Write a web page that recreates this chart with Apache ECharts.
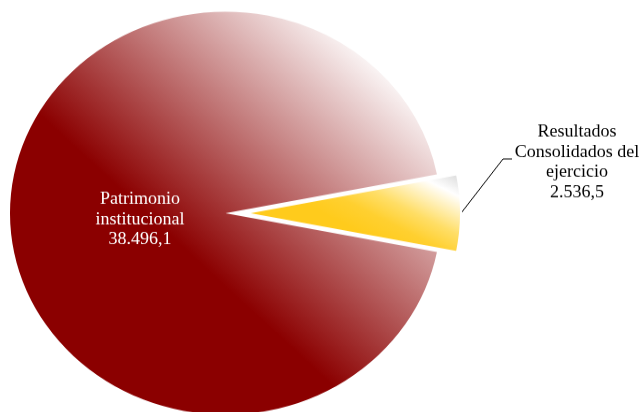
<!DOCTYPE html>
<html><head><meta charset="utf-8">
<script src="https://cdn.jsdelivr.net/npm/echarts@6/dist/echarts.min.js"></script>
<style>
html,body{margin:0;padding:0;background:#fff;overflow:hidden;width:643px;height:412px}
#wrap{width:643px;height:412px;overflow:hidden;position:relative}
#c{width:643px;height:441px;transform:scaleY(0.935);transform-origin:0 0;}
</style></head><body><div id="wrap"><div id="c"></div></div>
<script>
// ---- data ----
const categories = ['Patrimonio institucional', 'Resultados Consolidados del ejercicio'];
const labelNames = ['Patrimonio\ninstitucional', 'Resultados\nConsolidados del\nejercicio'];
const values = [38496.1, 2536.5];

function fmtEs(v) {
  const parts = v.toFixed(1).split('.');
  return parts[0].replace(/\B(?=(\d{3})+(?!\d))/g, '.') + ',' + parts[1];
}

const total = values.reduce((a, b) => a + b, 0);
const smallAngle = values[1] / total * 360;
const CX = 225.5, CY = 228, R = 215.5, EXPLODE = 20;

const chart = echarts.init(document.getElementById('c'), null, {renderer: 'canvas'});
const serif = '"Liberation Serif", "Times New Roman", serif';

const bigColor = {
  type: 'linear', x: 0, y: 1, x2: 1, y2: 0,
  colorStops: [
    {offset: 0, color: '#8b0000'},
    {offset: 0.41, color: '#8b0000'},
    {offset: 0.88, color: '#ffffff'},
    {offset: 1, color: '#ffffff'}
  ]
};
const smallColor = {
  type: 'linear', global: true,
  x: 381, y: 259.9, x2: 431, y2: 167.3,
  colorStops: [
    {offset: 0, color: '#ffcb1c'},
    {offset: 0.22, color: '#ffd030'},
    {offset: 0.42, color: '#ffde66'},
    {offset: 0.77, color: '#ffffff'},
    {offset: 1, color: '#d4d4d4'}
  ]
};

const baseLabel = {
  show: true,
  fontFamily: serif,
  fontSize: 18,
  lineHeight: 21.5,
  align: 'center',
  formatter: p => labelNames[p.dataIndex] + '\n' + fmtEs(p.value)
};
const hidden = {
  itemStyle: {color: 'rgba(0,0,0,0)', borderWidth: 0},
  label: {show: false},
  labelLine: {show: false}
};

function pieSeries(visibleIndex, center) {
  return {
    type: 'pie',
    center: center,
    radius: R,
    startAngle: -smallAngle / 2,
    clockwise: true,
    silent: true,
    avoidLabelOverlap: false,
    emphasis: {disabled: true},
    label: Object.assign({}, baseLabel, {
      position: visibleIndex === 0 ? 'inside' : 'outside',
      color: visibleIndex === 0 ? '#ffffff' : '#000000'
    }),
    labelLine: {show: visibleIndex === 1, length: 10, length2: 9, lineStyle: {color: '#000', width: 1}},
    labelLayout: function (params) {
      if (params.dataIndex !== visibleIndex) return {};
      if (visibleIndex === 0) {
        return {x: 140, y: 235, align: 'center', verticalAlign: 'middle'};
      }
      const p0 = (params.labelLinePoints && params.labelLinePoints[0]) || [CX + EXPLODE + R, CY];
      const elbow = [p0[0] + 42, p0[1] - 58];
      const end = [elbow[0] + 9, elbow[1]];
      return {
        x: 577, y: 173.8, align: 'center', verticalAlign: 'middle',
        labelLinePoints: [p0, elbow, end]
      };
    },
    data: values.map((v, i) => {
      const item = {name: categories[i], value: v};
      if (i !== visibleIndex) return Object.assign(item, hidden);
      item.itemStyle = i === 0
        ? {color: bigColor, borderWidth: 0}
        : {color: smallColor, borderColor: '#ffffff', borderWidth: 2};
      return item;
    })
  };
}

chart.setOption({
  animation: false,
  backgroundColor: '#ffffff',
  series: [
    pieSeries(0, [CX, CY]),
    pieSeries(1, [CX + EXPLODE, CY])
  ]
});
</script></body></html>
